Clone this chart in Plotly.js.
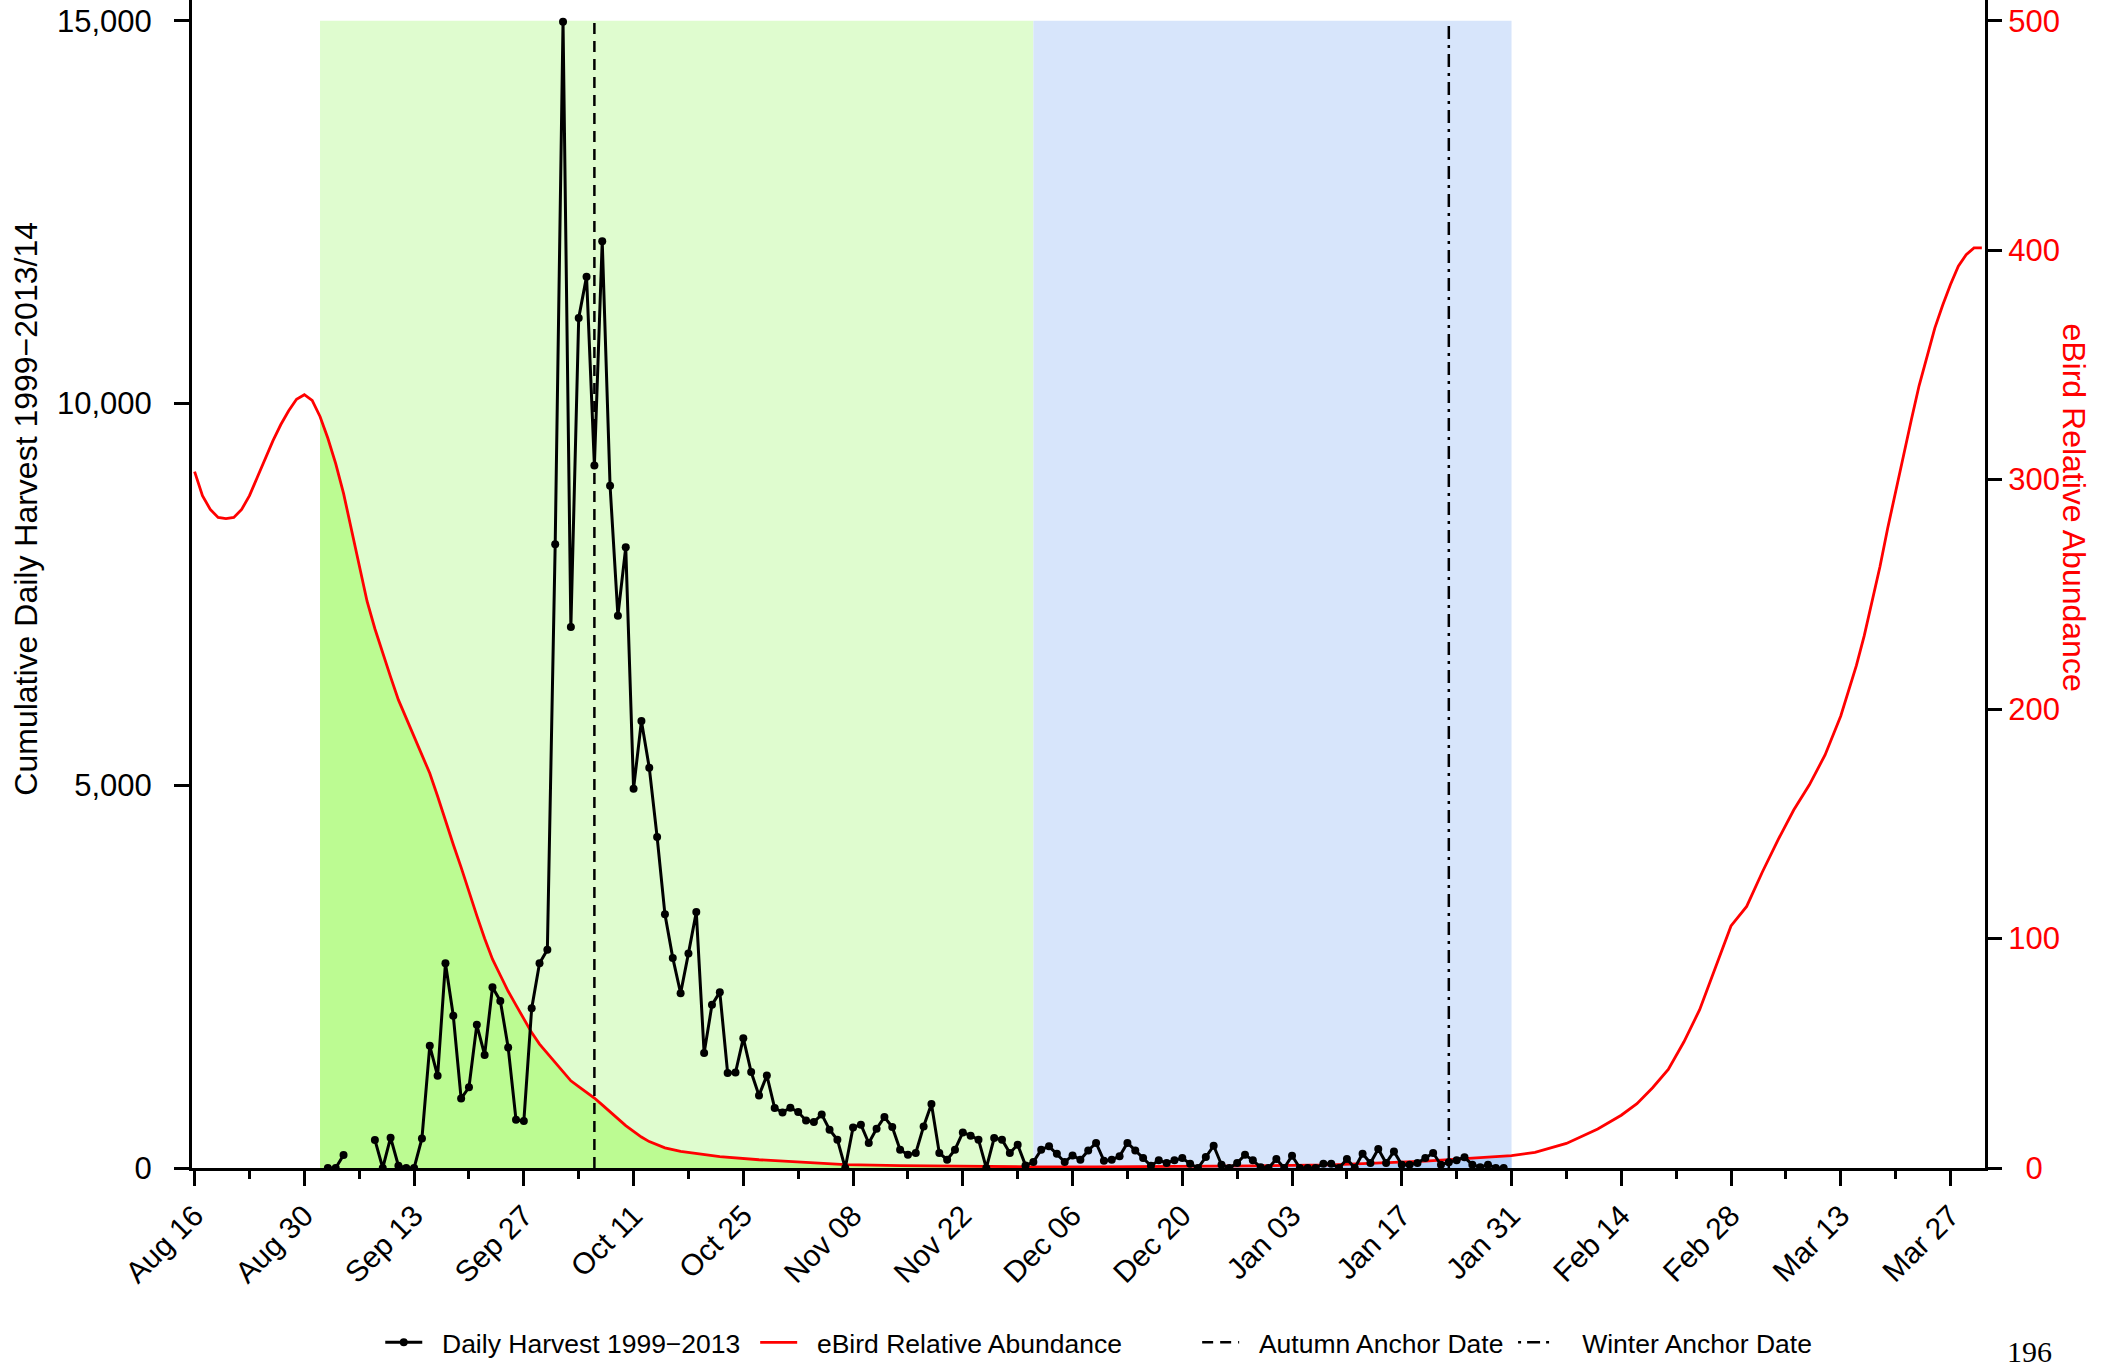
<!DOCTYPE html>
<html>
<head>
<meta charset="utf-8">
<script src="https://cdn.plot.ly/plotly-3.0.1.min.js"></script>
<style>
  html, body { margin: 0; padding: 0; background: #ffffff; }
  #chart { width: 2101px; height: 1371px; }
</style>
</head>
<body>
<div id="chart"></div>
<script>
// ---------------- DATA ----------------
// Daily harvest series: first date and one value per day (null = no data)
const harvestStart = "2011-09-02";
const harvestValues = [
  0, 0, 171, null, null, null, 367, 0, 396, 30,
  0, 0, 387, 1597, 1205, 2678, 1990, 908, 1055, 1872,
  1478, 2363, 2185, 1577, 632, 613, 2087, 2678, 2854, 8154,
  14987, 7072, 11113, 11654, 9186, 12116, 8920, 7220, 8115, 4959,
  5844, 5234, 4329, 3317, 2747, 2285, 2806, 3346, 1502, 2133,
  2299, 1241, 1249, 1698, 1254, 949, 1210, 784, 727, 788,
  731, 622, 601, 701, 500, 370, 0, 531, 566, 327,
  513, 666, 535, 239, 174, 196, 544, 836, 196, 108,
  239, 465, 422, 370, 0, 392, 370, 196, 304, 34,
  78, 239, 283, 187, 78, 165, 108, 230, 327, 95,
  108, 152, 327, 230, 130, 30, 100, 65, 100, 130,
  56, 0, 143, 291, 43, 0, 65, 174, 100, 10,
  0, 117, 0, 161, 0, 0, 0, 56, 56, 0,
  117, 0, 187, 65, 248, 65, 217, 43, 43, 65,
  130, 196, 43, 74, 100, 139, 43, 10, 43, 0,
  0
];

// eBird relative abundance curve
const abundanceDates = [
  "2011-08-16","2011-08-17","2011-08-18","2011-08-19","2011-08-20","2011-08-21","2011-08-22","2011-08-23",
  "2011-08-24","2011-08-25","2011-08-26","2011-08-27","2011-08-28","2011-08-29","2011-08-30","2011-08-31",
  "2011-09-01","2011-09-02","2011-09-03","2011-09-04","2011-09-05","2011-09-06","2011-09-07","2011-09-08",
  "2011-09-09","2011-09-10","2011-09-11","2011-09-12","2011-09-13","2011-09-14","2011-09-15","2011-09-16",
  "2011-09-17","2011-09-18","2011-09-19","2011-09-20","2011-09-21","2011-09-22","2011-09-23","2011-09-24",
  "2011-09-25","2011-09-26","2011-09-27","2011-09-28","2011-09-29","2011-09-30","2011-10-01","2011-10-02",
  "2011-10-03","2011-10-04","2011-10-05","2011-10-06","2011-10-07","2011-10-08","2011-10-09","2011-10-10",
  "2011-10-11","2011-10-12","2011-10-13","2011-10-14","2011-10-15","2011-10-17","2011-10-19","2011-10-22",
  "2011-10-27","2011-11-01","2011-11-07","2011-11-14","2011-11-24","2011-12-01","2011-12-09","2011-12-19",
  "2011-12-29","2012-01-08","2012-01-15","2012-01-20","2012-01-24","2012-01-28","2012-01-31","2012-02-03",
  "2012-02-07","2012-02-11","2012-02-14","2012-02-16","2012-02-18","2012-02-20","2012-02-22","2012-02-24",
  "2012-02-26","2012-02-28","2012-03-01","2012-03-03","2012-03-05","2012-03-07","2012-03-09","2012-03-11",
  "2012-03-13","2012-03-15","2012-03-16","2012-03-17","2012-03-18","2012-03-19","2012-03-20","2012-03-21",
  "2012-03-22","2012-03-23","2012-03-24","2012-03-25","2012-03-26","2012-03-27","2012-03-28","2012-03-29",
  "2012-03-30","2012-03-31"
];
const abundanceValues = [
  303.5, 293, 287, 283.5, 283, 283.5, 287, 293,
  301, 309, 317, 324, 330, 335, 337, 334.5,
  327.5, 318, 307, 294, 278, 262, 247, 235,
  224, 214, 204, 196, 188, 180, 172, 162,
  151, 141, 131, 120, 110, 100, 91, 84,
  77, 71, 65, 59, 54, 50, 46, 41.5,
  38, 35.5, 33, 30.5, 27.5, 24.5, 21.5, 18.5,
  16, 13.5, 11.5, 10, 8.8, 7.2, 6.3, 5,
  3.6, 2.5, 1.5, 1.0, 0.6, 0.5, 0.5, 0.6,
  0.9, 1.4, 2.2, 3.0, 3.9, 4.8, 5.4, 6.8,
  10.7, 17, 23, 28, 35, 43, 55, 69,
  87, 105.5, 114, 129, 143, 156, 167, 180,
  197, 219, 232, 247, 262, 279, 295, 311,
  326, 341, 354, 366, 376, 385, 393, 398,
  401, 401
];

// Periods and anchor dates
const autumnPeriod = ["2011-09-01", "2011-12-01"];
const winterPeriod = ["2011-12-01", "2012-01-31"];
const autumnAnchorDate = "2011-10-06";
const winterAnchorDate = "2012-01-23";
const harvestTop = 15000;

// Tick labels
const harvestTicks = [0, 5000, 10000, 15000];
const abundanceTicks = [0, 100, 200, 300, 400, 500];
const abundanceTickText = ["\u20070", "100", "200", "300", "400", "500"];

const seriesNames = ["Daily Harvest 1999\u22122013", "eBird Relative Abundance",
                     "Autumn Anchor Date", "Winter Anchor Date"];
const yTitleLeft = "Cumulative Daily Harvest 1999\u22122013/14";
const yTitleRight = "eBird Relative Abundance";
const pageNumber = "196";

// ---------------- BUILD ----------------
function addDays(iso, n) {
  const p = iso.split("-").map(Number);
  const d = new Date(Date.UTC(p[0], p[1] - 1, p[2] + n));
  return d.toISOString().slice(0, 10);
}
const harvestDates = harvestValues.map((_, i) => addDays(harvestStart, i));

function subset(range) {
  const xs = [], ys = [];
  abundanceDates.forEach((d, i) => {
    if (d >= range[0] && d <= range[1]) { xs.push(d); ys.push(abundanceValues[i]); }
  });
  return { xs, ys };
}
const autumnFill = subset(autumnPeriod);
const winterFill = subset(winterPeriod);

// legend label padding (gap between key and text, as in the reference)
const pad = ["\u00A0\u00A0", "\u00A0\u00A0", "\u00A0\u00A0", "\u00A0\u00A0\u00A0"];

const FONT = "Liberation Sans, Arial, Helvetica, sans-serif";
const LIGHT_GREEN = "#DFFCCF";
const DARK_GREEN = "#BCFB92";
const LIGHT_BLUE = "#D7E5FB";
const DARK_BLUE = "#B3D0F8";

const traces = [
  { x: autumnFill.xs, y: autumnFill.ys, yaxis: "y", type: "scatter", mode: "lines",
    line: { width: 0 }, fill: "tozeroy", fillcolor: DARK_GREEN, showlegend: false, hoverinfo: "skip" },
  { x: winterFill.xs, y: winterFill.ys, yaxis: "y", type: "scatter", mode: "lines",
    line: { width: 0 }, fill: "tozeroy", fillcolor: DARK_BLUE, showlegend: false, hoverinfo: "skip" },
  { x: abundanceDates, y: abundanceValues, yaxis: "y", type: "scatter", mode: "lines",
    name: pad[1] + seriesNames[1], legend: "legend2", line: { color: "#FF0000", width: 2.8 } },
  { x: [autumnAnchorDate, autumnAnchorDate], y: [0, harvestTop], yaxis: "y2", type: "scatter",
    mode: "lines", name: pad[2] + seriesNames[2], legend: "legend3",
    line: { color: "#000000", width: 2.5, dash: "11px,7px" } },
  { x: [winterAnchorDate, winterAnchorDate], y: [0, harvestTop], yaxis: "y2", type: "scatter",
    mode: "lines", name: pad[3] + seriesNames[3], legend: "legend4",
    line: { color: "#000000", width: 2.5, dash: "3px,6px,13px,6px" } },
  { x: harvestDates, y: harvestValues, yaxis: "y2", type: "scatter", mode: "lines+markers",
    name: pad[0] + seriesNames[0], legend: "legend", connectgaps: false,
    line: { color: "#000000", width: 3 }, marker: { color: "#000000", size: 8 } }
];

const DAY = 86400000;
const legendBase = { y: -0.1495, yanchor: "middle", xanchor: "left", orientation: "h",
  bgcolor: "rgba(0,0,0,0)", font: { family: FONT, size: 26.5, color: "#000" }, itemwidth: 37 };

const layout = {
  width: 2101, height: 1371,
  margin: { l: 192, r: 116, t: 0, b: 203, pad: 0 },
  paper_bgcolor: "#ffffff", plot_bgcolor: "#ffffff",
  font: { family: FONT, color: "#000" },
  xaxis: {
    type: "date",
    range: ["2011-08-15 16:00", "2012-03-31 09:40"],
    tick0: "2011-08-16", dtick: 14 * DAY, tickformat: "%b %d",
    ticks: "outside", ticklen: 15, tickwidth: 3, tickcolor: "#000",
    minor: { tick0: "2011-08-16", dtick: 7 * DAY, ticks: "outside", ticklen: 8, tickwidth: 3, tickcolor: "#000" },
    tickangle: -45, tickfont: { family: FONT, size: 30, color: "#000" },
    showline: true, linewidth: 3, linecolor: "#000", showgrid: false, zeroline: false
  },
  yaxis: {
    side: "right", range: [0, 509.0],
    tickvals: abundanceTicks, ticktext: abundanceTickText,
    ticks: "outside", ticklen: 14, tickwidth: 3, tickcolor: "#000",
    tickfont: { family: FONT, size: 31, color: "#FF0000" },
    showline: true, linewidth: 3, linecolor: "#000", showgrid: false, zeroline: false
  },
  yaxis2: {
    overlaying: "y", side: "left", range: [0, 15270.7],
    tickvals: harvestTicks, tickformat: ",d",
    ticks: "outside", ticklen: 15, tickwidth: 3, tickcolor: "#000",
    tickfont: { family: FONT, size: 31, color: "#000" },
    ticklabelstandoff: 16,
    showline: true, linewidth: 3, linecolor: "#000", showgrid: false, zeroline: false
  },
  shapes: [
    { type: "rect", layer: "below", xref: "x", yref: "y2", x0: autumnPeriod[0], x1: autumnPeriod[1],
      y0: 0, y1: harvestTop, fillcolor: LIGHT_GREEN, line: { width: 0 } },
    { type: "rect", layer: "below", xref: "x", yref: "y2", x0: winterPeriod[0], x1: winterPeriod[1],
      y0: 0, y1: harvestTop, fillcolor: LIGHT_BLUE, line: { width: 0 } }
  ],
  annotations: [
    { text: yTitleLeft, xref: "paper", yref: "paper", x: -0.0927, y: 0.5643, textangle: -90,
      showarrow: false, xanchor: "center", yanchor: "middle", font: { family: FONT, size: 32, color: "#000" } },
    { text: yTitleRight, xref: "paper", yref: "paper", x: 1.0496, y: 0.5656, textangle: 90,
      showarrow: false, xanchor: "center", yanchor: "middle", font: { family: FONT, size: 32, color: "#FF0000" } },
    { text: pageNumber, xref: "paper", yref: "paper", x: 1.025, y: -0.157,
      showarrow: false, xanchor: "center", yanchor: "middle", borderpad: 0,
      font: { family: "Liberation Serif, Times New Roman, serif", size: 30, color: "#000" } }
  ],
  showlegend: true,
  legend: Object.assign({}, legendBase, { x: 0.105 }),
  legend2: Object.assign({}, legendBase, { x: 0.3141 }),
  legend3: Object.assign({}, legendBase, { x: 0.5606 }),
  legend4: Object.assign({}, legendBase, { x: 0.7368 })
};

Plotly.newPlot("chart", traces, layout, { displayModeBar: false, staticPlot: true });
</script>
</body>
</html>
